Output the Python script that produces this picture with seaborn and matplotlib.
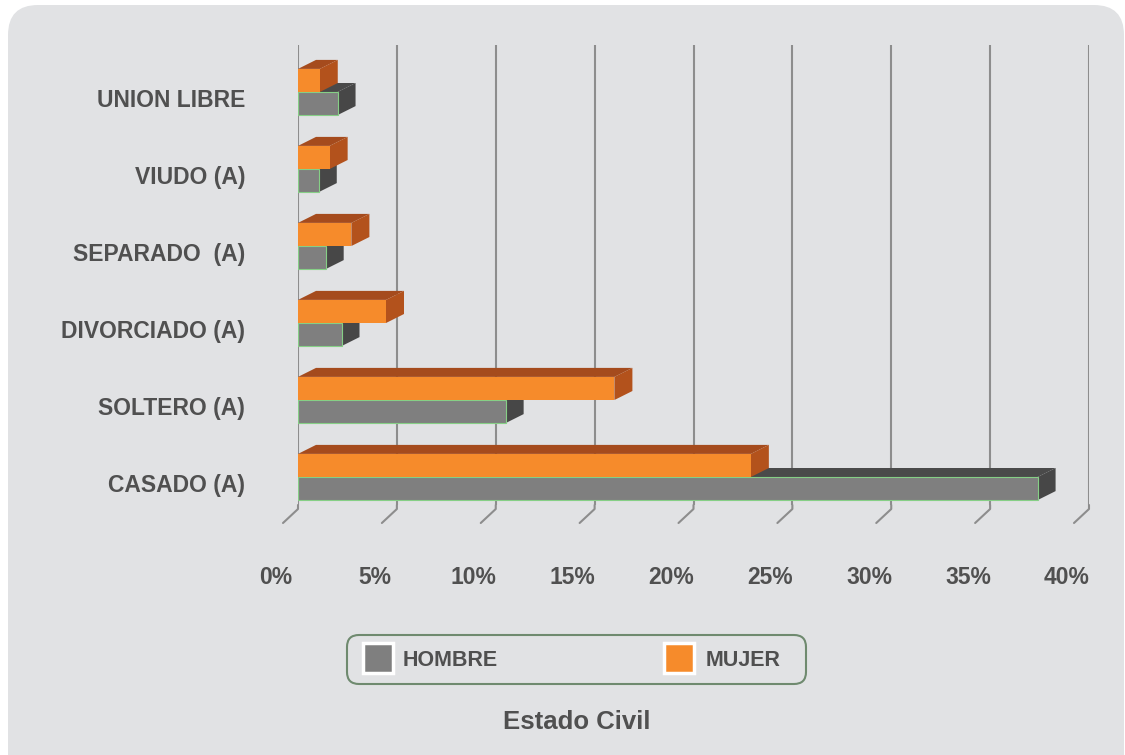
import numpy as np
import pandas as pd
import seaborn as sns
import matplotlib
matplotlib.use("Agg")
import matplotlib.pyplot as plt
from matplotlib.patches import FancyBboxPatch, Rectangle, Polygon
from matplotlib.transforms import IdentityTransform, ScaledTranslation, blended_transform_factory

# --- data -------------------------------------------------------------
categorias = ["UNION LIBRE", "VIUDO (A)", "SEPARADO  (A)", "DIVORCIADO (A)",
              "SOLTERO (A)", "CASADO (A)"]
hombre = [2.0, 1.05, 1.4, 2.2, 10.5, 37.4]
mujer = [1.1, 1.6, 2.7, 4.45, 16.0, 22.9]
series = ["MUJER", "HOMBRE"]
ticks_pct = [0, 5, 10, 15, 20, 25, 30, 35, 40]
tick_labels = [f"{t}%" for t in ticks_pct]
titulo = "Estado Civil"

# --- style ------------------------------------------------------------
sns.set_style("white")
plt.rcParams["font.family"] = ["Liberation Sans", "DejaVu Sans"]
TXT = "#505050"
PANEL = "#e1e2e4"
ORANGE = {"front": "#f68b2b", "top": "#a54b1d", "side": "#b3521c"}
GREY = {"front": "#7f7f7f", "top": "#4a4a4a", "side": "#474747"}
colors = {"MUJER": ORANGE, "HOMBRE": GREY}

W, H, DPI = 1125, 755, 100
fig = plt.figure(figsize=(W / DPI, H / DPI), dpi=DPI)
fig.patch.set_facecolor("white")

# rounded grey panel behind the chart
panel = FancyBboxPatch((8, -40), 1116, 790,
                       boxstyle="round,pad=0,rounding_size=30",
                       transform=IdentityTransform(), facecolor=PANEL,
                       edgecolor="none", zorder=-10)
fig.patches.append(panel)

# axes placed so that the back-wall gridlines land on the pixel grid
ax_l, ax_r, ax_t, ax_b = 298, 1089, 45, 505
ax = fig.add_axes([ax_l / W, 1 - ax_b / H, (ax_r - ax_l) / W, (ax_b - ax_t) / H])
ax.set_facecolor("none")
ax.set_zorder(1)

df = pd.DataFrame({
    "categoria": categorias * 2,
    "serie": ["HOMBRE"] * len(categorias) + ["MUJER"] * len(categorias),
    "valor": hombre + mujer,
})

sns.barplot(data=df, y="categoria", x="valor", hue="serie", hue_order=series,
            order=categorias, orient="h", width=0.6, dodge=True,
            palette={s: colors[s]["front"] for s in series},
            saturation=1, legend=False, ax=ax, zorder=3)

ax.set_xlim(0, 40)
cat_top, cat_gap = 92, 77
ax.set_ylim(5 + (ax_b - (cat_top + 5 * cat_gap)) / cat_gap,
            -(cat_top - ax_t) / cat_gap)

# 3-D depth: top and side faces for every bar
px_per_x = (ax_r - ax_l) / 40.0
dx = 18 / px_per_x
dy = 9 / cat_gap
for patch in list(ax.patches):
    x0, yc = patch.get_x(), patch.get_y()
    w, h = patch.get_width(), patch.get_height()
    x1 = x0 + w
    ytop, ybot = yc, yc + h
    fc = matplotlib.colors.to_hex(patch.get_facecolor())
    serie = "MUJER" if fc == ORANGE["front"] else "HOMBRE"
    pal = colors[serie]
    z = 5 if serie == "MUJER" else 3
    patch.set_zorder(z + 0.2)
    if serie == "HOMBRE":
        patch.set_edgecolor("#86cf86")
        patch.set_linewidth(0.8)
    else:
        patch.set_edgecolor("none")
    top = Polygon([(x0, ytop), (x1, ytop), (x1 + dx, ytop - dy), (x0 + dx, ytop - dy)],
                  closed=True, facecolor=pal["top"], edgecolor="none", zorder=z)
    side = Polygon([(x1, ytop), (x1 + dx, ytop - dy), (x1 + dx, ybot - dy), (x1, ybot)],
                   closed=True, facecolor=pal["side"], edgecolor="none", zorder=z + 0.1)
    ax.add_patch(top)
    ax.add_patch(side)

# gridlines on the back wall
ax.set_xticks(ticks_pct)
ax.grid(axis="x", color="#8d8d8d", linewidth=1.5, zorder=0)
ax.grid(axis="y", visible=False)
for s in ax.spines.values():
    s.set_visible(False)
ax.tick_params(axis="x", length=0, labelbottom=False)
ax.tick_params(axis="y", length=0, pad=38, labelsize=16.5, labelcolor=TXT)
for lab in ax.get_yticklabels():
    lab.set_fontweight("bold")
    lab.set_transform(lab.get_transform() + ScaledTranslation(0, -6 / DPI, fig.dpi_scale_trans))
ax.set_xlabel("")
ax.set_ylabel("")

# slanted floor ticks and their labels
blend = blended_transform_factory(ax.transData, ax.transAxes)
ah = ax_b - ax_t
for t, lab in zip(ticks_pct, tick_labels):
    ax.plot([t, t, t - 15 / px_per_x], [0, -4 / ah, -18 / ah], transform=blend,
            color="#8d8d8d", linewidth=1.5, clip_on=False, zorder=1)
    ax.text(t - 22 / px_per_x, -(578 - ax_b) / ah, lab, transform=blend,
            ha="center", va="center", fontsize=16.5, fontweight="bold", color=TXT)

# legend box
def fy(y):
    return H - y

leg = FancyBboxPatch((347, fy(684)), 806 - 347, 684 - 635,
                     boxstyle="round,pad=0,rounding_size=12",
                     transform=IdentityTransform(), facecolor="none",
                     edgecolor="#6f8a6f", linewidth=1.5, zorder=2)
fig.patches.append(leg)
for serie, (sx, tx) in {"HOMBRE": (363, 403), "MUJER": (664, 706)}.items():
    sq = Rectangle((sx, fy(673)), 30, 30, transform=IdentityTransform(),
                   facecolor=colors[serie]["front"], edgecolor="white",
                   linewidth=2.5, zorder=3)
    fig.patches.append(sq)
    fig.text(tx / W, 1 - 661 / H, serie, ha="left", va="center",
             fontsize=15.5, fontweight="bold", color=TXT)

fig.text(577 / W, 1 - 722 / H, titulo, ha="center", va="center",
         fontsize=18.5, fontweight="bold", color=TXT)

fig.savefig("out.png", dpi=DPI)
